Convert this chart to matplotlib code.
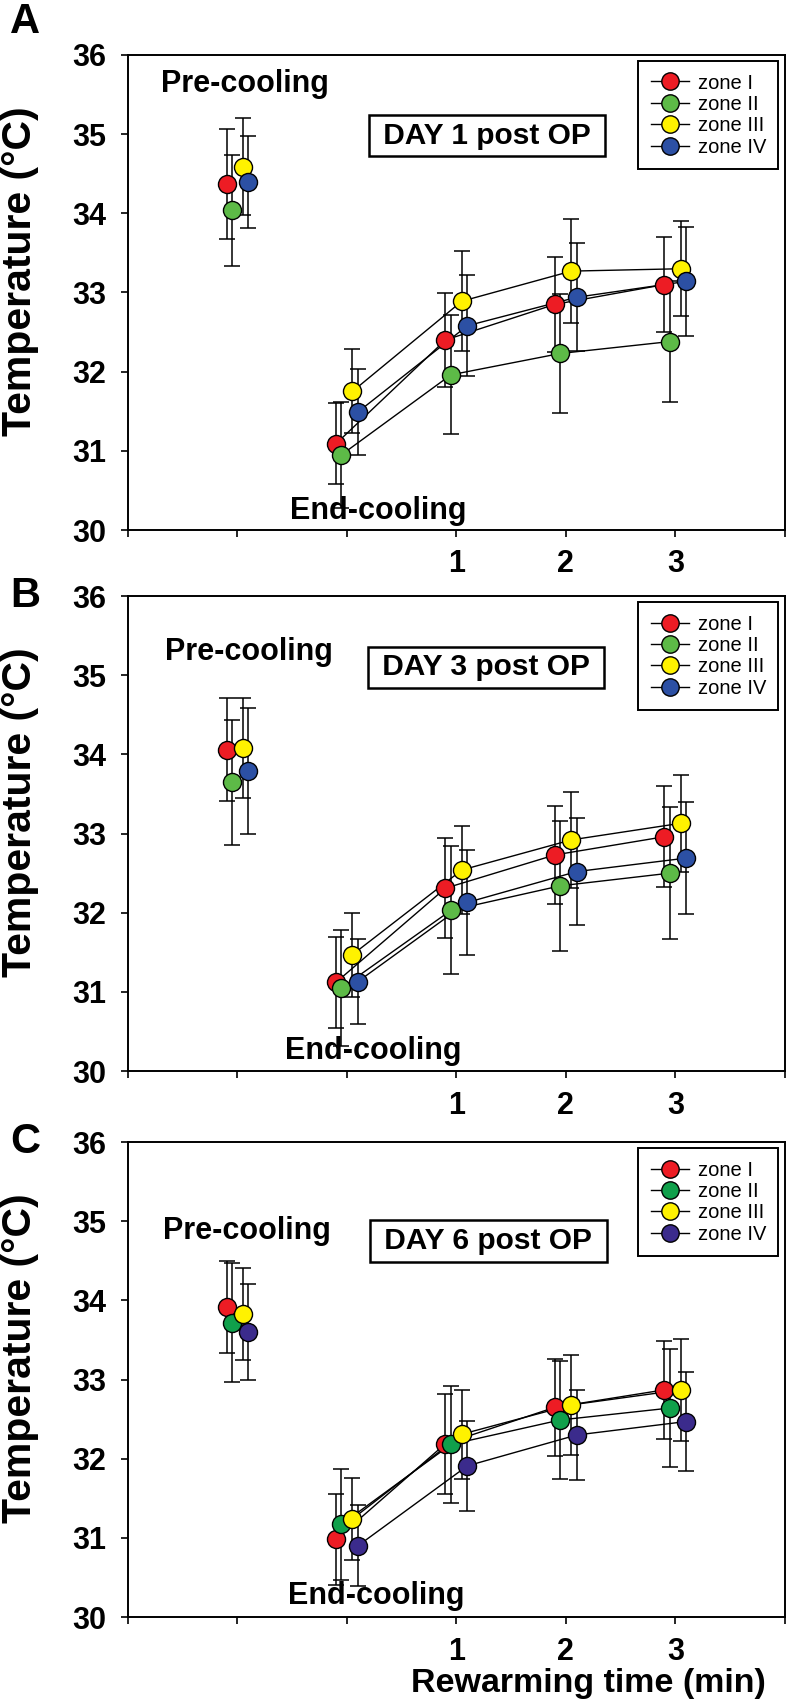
import matplotlib
matplotlib.use('Agg')
import matplotlib.pyplot as plt
from matplotlib.lines import Line2D

plt.rcParams['font.family'] = ['Liberation Sans', 'DejaVu Sans']

# ---------------- data ----------------
zones = ['zone I', 'zone II', 'zone III', 'zone IV']
time_points = [-1, 0, 1, 2, 3]          # pre-cooling, end-cooling, 1, 2, 3 min
x_ticks = [-2, -1, 0, 1, 2, 3, 4]
x_tick_labels = ['', '', '', '1', '2', '3', '']
y_ticks = [30, 31, 32, 33, 34, 35, 36]
panel_letters = ['A', 'B', 'C']
day_titles = ['DAY 1 post OP', 'DAY 3 post OP', 'DAY 6 post OP']

# Panel A (Day 1)
a_zone1 = [34.37, 31.09, 32.40, 32.85, 33.10]
a_zone1_err = [0.70, 0.51, 0.59, 0.60, 0.60]
a_zone2 = [34.04, 30.95, 31.96, 32.23, 32.38]
a_zone2_err = [0.70, 0.67, 0.75, 0.75, 0.76]
a_zone3 = [34.59, 31.75, 32.89, 33.27, 33.30]
a_zone3_err = [0.61, 0.53, 0.63, 0.66, 0.60]
a_zone4 = [34.40, 31.49, 32.58, 32.94, 33.14]
a_zone4_err = [0.58, 0.54, 0.64, 0.68, 0.69]

# Panel B (Day 3)
b_zone1 = [34.06, 31.12, 32.31, 32.73, 32.96]
b_zone1_err = [0.65, 0.57, 0.63, 0.62, 0.64]
b_zone2 = [33.65, 31.05, 32.03, 32.34, 32.50]
b_zone2_err = [0.79, 0.73, 0.81, 0.82, 0.83]
b_zone3 = [34.08, 31.47, 32.54, 32.92, 33.13]
b_zone3_err = [0.63, 0.53, 0.56, 0.61, 0.61]
b_zone4 = [33.79, 31.13, 32.13, 32.52, 32.69]
b_zone4_err = [0.79, 0.54, 0.66, 0.68, 0.71]

# Panel C (Day 6)
c_zone1 = [33.92, 30.98, 32.19, 32.65, 32.87]
c_zone1_err = [0.58, 0.58, 0.63, 0.61, 0.62]
c_zone2 = [33.72, 31.17, 32.18, 32.49, 32.64]
c_zone2_err = [0.75, 0.70, 0.74, 0.75, 0.74]
c_zone3 = [33.83, 31.24, 32.31, 32.68, 32.87]
c_zone3_err = [0.58, 0.52, 0.56, 0.63, 0.64]
c_zone4 = [33.60, 30.90, 31.91, 32.30, 32.47]
c_zone4_err = [0.61, 0.51, 0.57, 0.57, 0.63]

# ---------------- styles ----------------
zone_offsets = [-0.10, -0.05, 0.05, 0.10]
colors_ab = ['#ed1c24', '#5dba47', '#fff200', '#2c50a4']
colors_c = ['#ed1c24', '#10a04b', '#fff200', '#3b2b8c']

panels = [
    dict(means=[a_zone1, a_zone2, a_zone3, a_zone4],
         errs=[a_zone1_err, a_zone2_err, a_zone3_err, a_zone4_err],
         colors=colors_ab, bottom=0.6886, pre_xy=(-1.70, 35.63),
         end_xy=(-0.52, 30.24), day_xy=(1.28, 34.98), letter_y=1.07),
    dict(means=[b_zone1, b_zone2, b_zone3, b_zone4],
         errs=[b_zone1_err, b_zone2_err, b_zone3_err, b_zone4_err],
         colors=colors_ab, bottom=0.3707, pre_xy=(-1.66, 35.29),
         end_xy=(-0.57, 30.25), day_xy=(1.27, 35.10), letter_y=1.0),
    dict(means=[c_zone1, c_zone2, c_zone3, c_zone4],
         errs=[c_zone1_err, c_zone2_err, c_zone3_err, c_zone4_err],
         colors=colors_c, bottom=0.0499, pre_xy=(-1.68, 34.88),
         end_xy=(-0.54, 30.27), day_xy=(1.29, 34.75), letter_y=1.0),
]

fig = plt.figure(figsize=(8.0, 17.02), dpi=100)

for k, p in enumerate(panels):
    ax = fig.add_axes([0.160, p['bottom'], 0.821, 0.2791])
    handles = []
    for z in range(4):
        xs = [t + zone_offsets[z] for t in time_points]
        ys = p['means'][z]
        es = p['errs'][z]
        ax.errorbar(xs, ys, yerr=es, fmt='none', ecolor='black',
                    elinewidth=1.1, capsize=5.5, capthick=1.1, zorder=2)
        ax.plot(xs[1:], ys[1:], color='black', lw=1.0, zorder=3)
        ax.plot(xs, ys, linestyle='none', marker='o', markersize=13,
                markerfacecolor=p['colors'][z], markeredgecolor='black',
                markeredgewidth=1.0, zorder=4)
        handles.append(Line2D([], [], color='black', lw=1.0, marker='o',
                              markersize=12.5, markerfacecolor=p['colors'][z],
                              markeredgecolor='black', markeredgewidth=1.0))

    ax.set_xlim(-2, 4)
    ax.set_ylim(30, 36)
    ax.set_xticks(x_ticks)
    ax.set_xticklabels(x_tick_labels)
    ax.set_yticks(y_ticks)
    ax.set_yticklabels([str(v) for v in y_ticks])
    for s in ax.spines.values():
        s.set_linewidth(1.4)
    ax.tick_params(axis='y', direction='out', length=5, width=1.2,
                   labelsize=22, pad=11)
    ax.tick_params(axis='x', direction='out', length=5, width=1.2,
                   labelsize=22, pad=9)
    for lab in ax.get_xticklabels() + ax.get_yticklabels():
        lab.set_fontweight('bold')

    ax.text(-0.165, 0.545, 'Temperature (°C)', rotation=90, fontsize=29.5,
            fontweight='bold', transform=ax.transAxes,
            ha='center', va='center')

    ax.text(p['pre_xy'][0], p['pre_xy'][1], 'Pre-cooling', fontsize=22,
            fontweight='bold', ha='left', va='center')
    ax.text(p['end_xy'][0], p['end_xy'][1], 'End-cooling', fontsize=22,
            fontweight='bold', ha='left', va='center')
    ax.text(p['day_xy'][0], p['day_xy'][1], ' ' + day_titles[k] + ' ',
            fontsize=21.5, fontweight='bold', ha='center', va='center',
            bbox=dict(boxstyle='square,pad=0.22', facecolor='white',
                      edgecolor='black', linewidth=1.8))

    leg = ax.legend(handles, zones, loc='upper right', fontsize=14.5,
                    frameon=True, fancybox=False, edgecolor='black',
                    handlelength=1.9, handletextpad=0.45, labelspacing=0.12,
                    borderpad=0.6, borderaxespad=0.32, framealpha=1)
    leg.get_frame().set_linewidth(1.4)

    ax.text(-0.18, p['letter_y'], panel_letters[k], transform=ax.transAxes,
            fontsize=30, fontweight='bold', ha='left', va='center')

    if k == 2:
        ax.text(0.735, 0.0059, 'Rewarming time (min)', fontsize=24.5,
                fontweight='bold', ha='center', va='baseline',
                transform=fig.transFigure)

fig.savefig('out.png', dpi=100)
